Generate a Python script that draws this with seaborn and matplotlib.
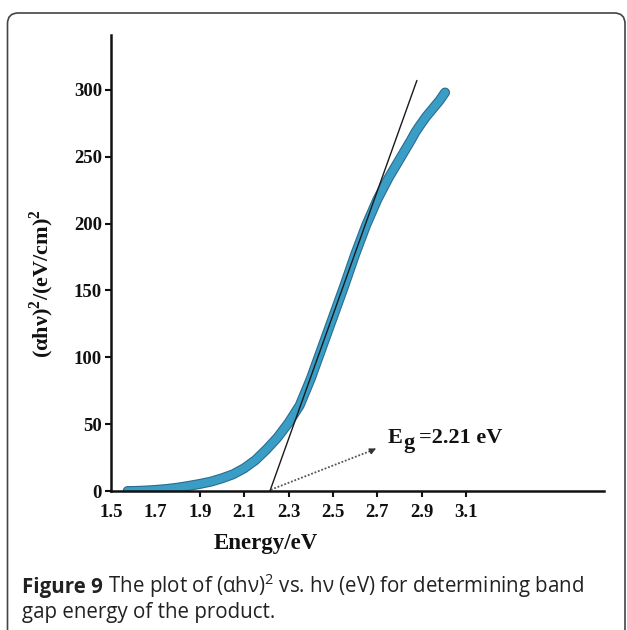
import numpy as np
import pandas as pd
import seaborn as sns
import matplotlib
matplotlib.use("Agg")
import matplotlib.pyplot as plt
import matplotlib.patheffects as pe
from matplotlib.patches import FancyBboxPatch
from matplotlib.transforms import ScaledTranslation

# ---- data ----
energy = [1.575, 1.60, 1.65, 1.70, 1.75, 1.80, 1.85, 1.90, 1.95, 2.00, 2.05, 2.10,
          2.15, 2.20, 2.25, 2.30, 2.35, 2.40, 2.45, 2.50, 2.55, 2.60, 2.65, 2.70,
          2.75, 2.80, 2.85, 2.87, 2.89, 2.92, 2.95, 2.98, 3.005]
absorb = [0.0, 0.0, 0.3, 0.8, 1.5, 2.5, 3.8, 5.3, 7.0, 9.5, 12.5, 17.0,
          23.0, 31.0, 40.0, 51.0, 64.0, 84.0, 107.0, 130.0, 153.0, 177.0, 199.0, 218.0,
          234.0, 248.0, 262.0, 268.0, 273.0, 280.0, 286.0, 292.0, 298.0]
tangent_x = [2.216, 2.878]
tangent_y = [0.0, 307.0]
x_ticks = [1.5, 1.7, 1.9, 2.1, 2.3, 2.5, 2.7, 2.9, 3.1]
y_ticks = [0, 50, 100, 150, 200, 250, 300]
eg_label = "2.21 eV"
caption_bold = "Figure 9"
caption_rest = r" The plot of (αhν)$^{\mathrm{2}}$ vs. hν (eV) for determining band"
caption_line2 = "gap energy of the product."

sns.set_style("ticks")
plt.rcParams["font.family"] = ["Liberation Serif", "DejaVu Serif"]
plt.rcParams["mathtext.fontset"] = "custom"
plt.rcParams["mathtext.rm"] = "Open Sans"
plt.rcParams["mathtext.bf"] = "Liberation Serif:bold"

fig = plt.figure(figsize=(6.27, 6.30), dpi=100)
ax = fig.add_axes([0.177, 0.2206, 0.786, 0.7238])

df = pd.DataFrame({"Energy": energy, "Abs": absorb})
sns.lineplot(data=df, x="Energy", y="Abs", ax=ax, color="#3A9DC6", linewidth=5.6,
             solid_capstyle="round",
             path_effects=[pe.Stroke(linewidth=7.2, foreground="#2B6C8C"), pe.Normal()])
sns.lineplot(x=tangent_x, y=tangent_y, ax=ax, color="#1a1a1a", linewidth=1.0)

ax.set_xlim(1.5, 3.72)
ax.set_ylim(0, 341)
ax.set_xticks(x_ticks)
ax.set_yticks(y_ticks)
ax.set_xticklabels([f"{v:.1f}" for v in x_ticks])
ax.set_yticklabels([str(v) for v in y_ticks])
for lab in ax.get_xticklabels() + ax.get_yticklabels():
    lab.set_fontweight("bold")
    lab.set_fontsize(13.5)
    lab.set_color("#111111")
for lab in ax.get_xticklabels():
    lab.set_transform(lab.get_transform() + ScaledTranslation(-0.07, 0, fig.dpi_scale_trans))
for t in ax.xaxis.get_major_ticks()[:2]:
    t.tick1line.set_visible(False)

ax.tick_params(axis="x", direction="out", length=4, width=1.5, pad=5.5, color="#111111")
ax.tick_params(axis="y", direction="out", length=4.5, width=1.5, pad=2, color="#111111")
sns.despine(ax=ax)
for s in ["left", "bottom"]:
    ax.spines[s].set_linewidth(1.8)
    ax.spines[s].set_color("#111111")

ax.set_xlabel("Energy/eV", fontsize=16.5, fontweight="bold", color="#111111")
ax.xaxis.set_label_coords(0.314, -0.093)
ax.set_ylabel(r"(αhν)$^{\mathbf{2}}$/(eV/cm)$^{\mathbf{2}}$", fontsize=16,
              fontweight="bold", color="#111111")
ax.yaxis.set_label_coords(-0.112, 0.454)

# Eg annotation
ax.plot([2.22, 2.685], [1.0, 31.0], color="#555555", linestyle=(0, (1, 1)), linewidth=1.3)
ax.annotate("", xy=(2.694, 31.8), xytext=(2.675, 30.3),
            arrowprops=dict(arrowstyle="-|>", color="#333333", lw=1.0, mutation_scale=9))
ax.annotate("E", xy=(2.748, 36), xytext=(0, 0), textcoords="offset points",
            fontsize=16, fontweight="bold", color="#111111", va="baseline", ha="left")
ax.annotate("g", xy=(2.748, 36), xytext=(10.8, -3.5), textcoords="offset points",
            fontsize=16, fontweight="bold", color="#111111", va="baseline", ha="left")
ax.annotate("=" + eg_label, xy=(2.748, 36), xytext=(22.5, 0), textcoords="offset points",
            fontsize=16, fontweight="bold", color="#111111", va="baseline", ha="left")

# caption
fig.canvas.draw()
r = fig.canvas.get_renderer()
cap_kw = dict(fontsize=14.8, family=["Open Sans", "DejaVu Sans"], color="#222222",
              va="baseline")
t1 = fig.text(22 / 627, 1 - 593 / 630, caption_bold, fontweight="bold", **cap_kw)
bb = t1.get_window_extent(renderer=r)
fig.text(bb.x1 / fig.bbox.width, 1 - 593 / 630, caption_rest, **cap_kw)
fig.text(22 / 627, 1 - 618 / 630, caption_line2, **cap_kw)

# rounded frame
frame = FancyBboxPatch((7.5 / 627, -0.05), (625 - 7.5) / 627, 1 - 13 / 630 + 0.05,
                       boxstyle="round,pad=0,rounding_size=0.017",
                       transform=fig.transFigure, fill=False, edgecolor="#444444",
                       linewidth=1.2)
fig.patches.append(frame)

fig.savefig("out.png", dpi=100)
